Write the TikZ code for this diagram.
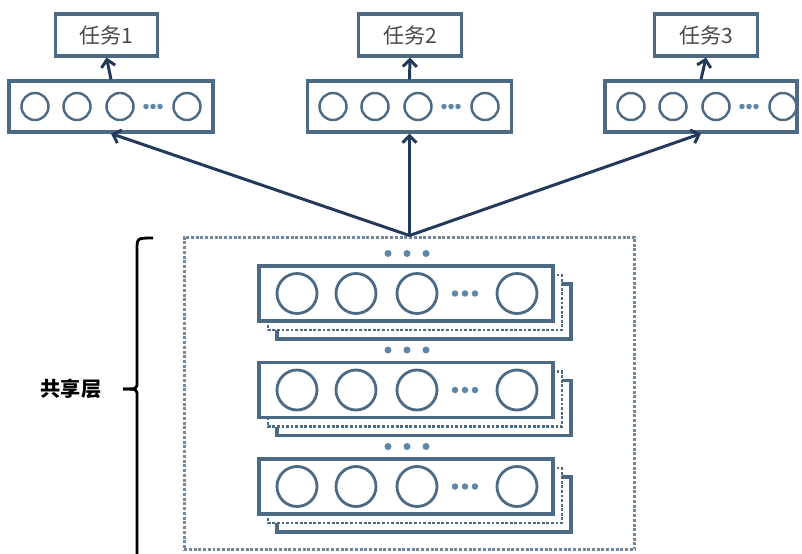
\documentclass[tikz,border=0pt]{standalone}
\usepackage{fontspec}
\setmainfont{Noto Sans CJK SC}
\usetikzlibrary{arrows.meta}
\definecolor{boxc}{HTML}{4D6A84}
\definecolor{arrc}{HTML}{22395C}
\definecolor{dotc}{HTML}{5E86A9}
\definecolor{taskc}{HTML}{484848}
\tikzset{
  taskbox/.style={draw=boxc,line width=1.8pt,minimum width=2.05cm,minimum height=0.84cm,
    font=\fontsize{12pt}{14pt}\selectfont,text=taskc},
  layerbox/.style={draw=boxc,line width=1.8pt,minimum width=4.08cm,minimum height=1.02cm},
  unit/.style={circle,draw=boxc,line width=1.4pt,minimum size=0.54cm,inner sep=0pt},
  bigunit/.style={circle,draw=boxc,line width=1.6pt,minimum size=0.8cm,inner sep=0pt},
  stackbox/.style={draw=boxc,fill=white,line width=1.8pt,minimum width=5.88cm,minimum height=1.1cm},
  dotline/.style={draw=boxc,line width=1.6pt,densely dotted},
  sharedbox/.style={draw=boxc!80,line width=1.7pt,densely dotted,minimum width=9.02cm,minimum height=6.26cm},
  arr/.style={draw=arrc,line width=1.7pt,-{Straight Barb[length=1.4mm,width=2.8mm]}},
}
\begin{document}
\begin{tikzpicture}[x=0.02cm,y=-0.02cm]
\useasboundingbox (0,0) rectangle (802,554);
% tasks
\node[taskbox] (t1) at (106.5,35) {任务1};
\node[taskbox] (t2) at (410,35) {任务2};
\node[taskbox] (t3) at (706,35) {任务3};
% task layers
\node[layerbox] (l1) at (111,106.5) {};
\node[layerbox] (l2) at (409.5,106.5) {};
\node[layerbox,minimum width=3.84cm] (l3) at (701,106.5) {};
\foreach \n/\x in {1/9,2/307,3/605}{
  \foreach \dx [count=\i] in {26,68,111,178}
    \node[unit] (l\n-\i) at (\x+\dx,106.5) {};
  \foreach \dx in {137,144,151}
    \fill[dotc] (\x+\dx,106.5) circle (0.055cm);
}
% shared layer
\node[sharedbox] (shared) at (409.5,393.5) {};
\foreach \s/\y in {1/293.5,2/390,3/486.5}{
  \draw[draw=boxc,line width=1.8pt,fill=white] (277,\y-9.5) rectangle (571,\y+45.5);
  \draw[dotline,fill=white] (268,\y-18.5) rectangle (562,\y+36.5);
  \node[stackbox] (s\s) at (406,\y) {};
  \foreach \dx [count=\i] in {38,97,158,258}
    \node[bigunit] (s\s-\i) at (259+\dx,\y) {};
  \foreach \dx in {196,206,216}
    \fill[dotc] (259+\dx,\y) circle (0.065cm);
  \foreach \dx in {-19,0,19}
    \fill[dotc] (407+\dx,\y-40) circle (0.07cm);
}
% arrows
\draw[arr] (shared.north) -- (l1.south);
\draw[arr] (shared.north) -- (l2.south);
\draw[arr] (shared.north) -- (l3.south);
\draw[arr] (l1.north) -- (t1.south);
\draw[arr] (l2.north) -- (t2.south);
\draw[arr] (l3.north) -- (t3.south);
% brace
\node[font=\bfseries\fontsize{11.5pt}{13pt}\selectfont] (lbl) at (71,389) {共享层};
\draw[line width=1.6pt] (153,238) .. controls (137,238) .. (137,250) -- (137,382)
  .. controls (137,389) .. (123,389);
\draw[line width=1.6pt] (123,389) .. controls (137,389) .. (137,396) -- (137,554);
\end{tikzpicture}
\end{document}
